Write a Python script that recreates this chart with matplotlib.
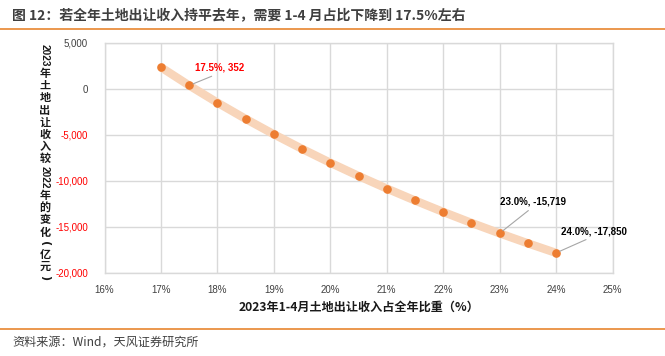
import matplotlib
matplotlib.use("Agg")
import matplotlib.pyplot as plt
from matplotlib.ticker import FuncFormatter, MultipleLocator

plt.rcParams['font.family'] = ['Noto Sans CJK SC', 'DejaVu Sans']

# 1-4月占比（%）与 2023年土地出让收入较2022年的变化（亿元）
share = [17.0, 17.5, 18.0, 18.5, 19.0, 19.5, 20.0, 20.5, 21.0, 21.5, 22.0, 22.5, 23.0, 23.5, 24.0]
change = [2329, 352, -1515, -3281, -4954, -6541, -8049, -9483, -10849, -12151,
          -13395, -14583, -15719, -16807, -17850]

# labelled points: (share, change, colour)
labels = [(17.5, 352, "#FF0000"), (23.0, -15719, "#000000"), (24.0, -17850, "#000000")]

title = "图 12：若全年土地出让收入持平去年，需要 1-4 月占比下降到 17.5%左右"
xlabel = "2023年1-4月土地出让收入占全年比重（%）"
source = "资料来源：Wind，天风证券研究所"
# vertical y label: digit groups and brackets are turned, CJK stays upright
ylabel_parts = ["2023", "年", "土", "地", "出", "让", "收", "入", "较", "2022",
                "年", "的", "变", "化", "(", "亿", "元", ")"]

W, H = 665, 356
fig = plt.figure(figsize=(W / 100, H / 100), dpi=100)
ax = fig.add_axes([104.5 / W, 1 - 272.7 / H, 508 / W, 230 / H])

ax.plot(share, change, color="#F8D5BA", linewidth=6, solid_capstyle="butt", zorder=2)
ax.plot(share, change, linestyle="none", marker="o", markersize=5.2,
        color="#ED7D31", markeredgecolor="#ED7D31", zorder=3)

ax.set_xlim(16, 25)
ax.set_ylim(-20000, 5000)
ax.xaxis.set_major_locator(MultipleLocator(1))
ax.yaxis.set_major_locator(MultipleLocator(5000))
ax.xaxis.set_major_formatter(FuncFormatter(lambda v, p: f"{v:.0f}%"))
ax.yaxis.set_major_formatter(FuncFormatter(lambda v, p: f"{v:,.0f}"))
ax.grid(True, color="#D9D9D9", linewidth=1)
ax.set_axisbelow(True)
for s in ax.spines.values():
    s.set_color("#D9D9D9")
    s.set_linewidth(1)
ax.tick_params(length=0, labelsize=7, colors="#404040")
ax.tick_params(axis="y", pad=12)
ax.tick_params(axis="x", pad=9)
for t in ax.get_xticklabels() + ax.get_yticklabels():
    t.set_family(["Liberation Sans", "DejaVu Sans"])
for v, t in zip(ax.get_yticks(), ax.get_yticklabels()):
    if v < 0:
        t.set_color("#FF0000")

# data labels with leader lines (offsets in points)
offsets = {17.5: (22, 9), 23.0: (24, 19), 24.0: (27, 12)}
for x, y, c in labels:
    dx, dy = offsets[x]
    ax.annotate(f"{x:.1f}%, {y:,}", xy=(x, y), xytext=(dx, dy), textcoords="offset points",
                ha="center", va="bottom", fontsize=7, fontweight="bold", color=c,
                family=["Liberation Sans", "DejaVu Sans"],
                arrowprops=dict(arrowstyle="-", color="#A6A6A6", linewidth=0.8,
                                shrinkA=1, shrinkB=3, relpos=(0.5, 0)))

ax.set_xlabel(xlabel, fontsize=8.7, fontweight="bold", color="#1A1A1A", labelpad=4)

renderer = fig.canvas.get_renderer()
y = 43.0
for txt in ylabel_parts:
    turned = txt.isdigit() or txt in "()"
    t = fig.text(45 / W, 0.5, txt, rotation=-90 if turned else 0, ha="center", va="center",
                 rotation_mode="anchor", fontsize=7.2 if txt.isdigit() else 8,
                 fontweight="bold", color="#1A1A1A", family=["DejaVu Sans"] if turned else None)
    if txt.isdigit():
        t.set_family(["Liberation Sans", "DejaVu Sans"])
        adv = t.get_window_extent(renderer).height + 2
    elif txt in "()":
        adv = 10.0
    else:
        adv = 12.2
    t.set_y(1 - (y + adv / 2) / H)
    y += adv

fig.text(12 / W, 1 - 16 / H, title, fontsize=10, fontweight="bold", color="#3F3F3F",
         ha="left", va="center")
fig.text(12 / W, 1 - 342 / H, source, fontsize=8.7, color="#404040", ha="left", va="center")
for ly in (29.3, 329.3):
    fig.add_artist(plt.Line2D([0, 1], [1 - ly / H, 1 - ly / H], color="#E8852F", linewidth=1.2))

fig.savefig("out.png", dpi=100)
